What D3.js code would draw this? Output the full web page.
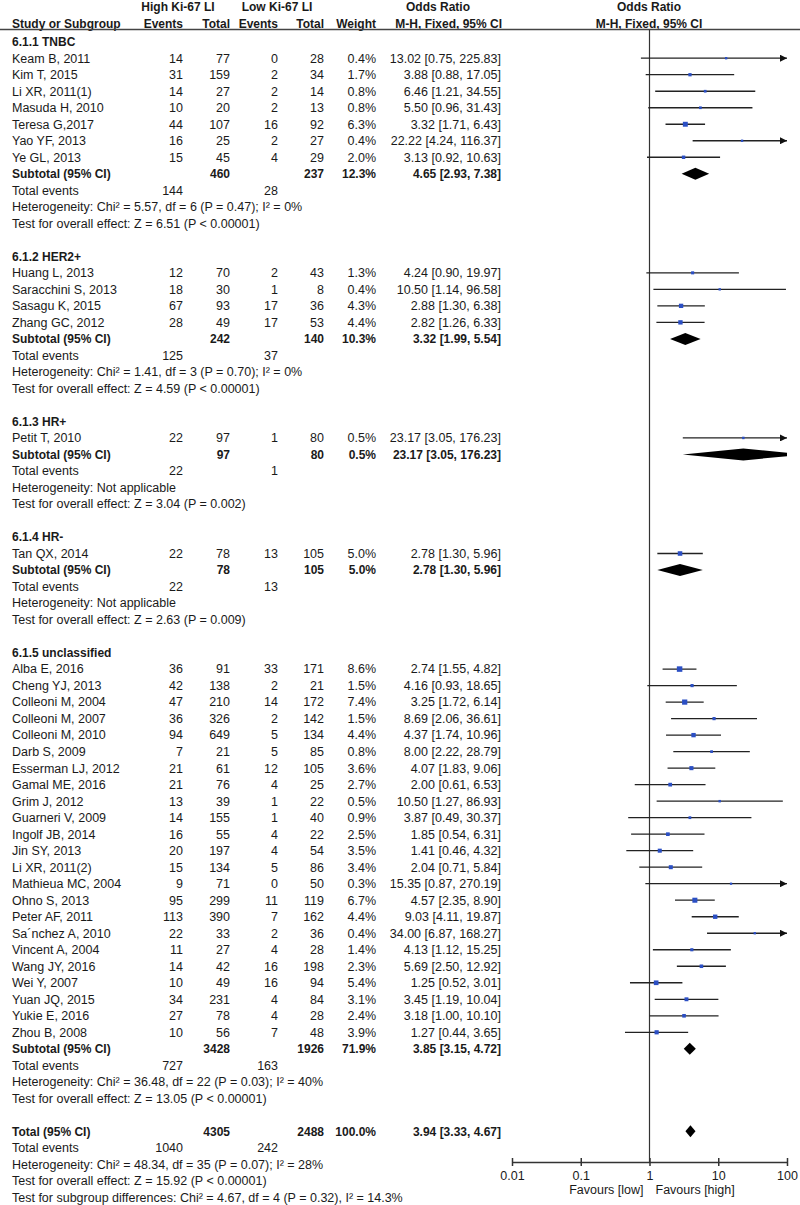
<!DOCTYPE html>
<html>
<head>
<meta charset="utf-8">
<script src="https://cdn.jsdelivr.net/npm/d3@7"></script>
<style>
  body { margin: 0; background: #fff; }
  svg { font-family: "Liberation Sans", Arial, sans-serif; font-size: 12.5px; fill: #1a1a1a; }
  .b { font-weight: bold; font-size: 12px; }
</style>
</head>
<body>
<div id="chart"></div>
<script>
// Studies (parallel arrays, one entry per study)
const studyNames = ["Keam B, 2011", "Kim T, 2015", "Li XR, 2011(1)", "Masuda H, 2010", "Teresa G,2017", "Yao YF, 2013", "Ye GL, 2013",
  "Huang L, 2013", "Saracchini S, 2013", "Sasagu K, 2015", "Zhang GC, 2012",
  "Petit T, 2010",
  "Tan QX, 2014",
  "Alba E, 2016", "Cheng YJ, 2013", "Colleoni M, 2004", "Colleoni M, 2007", "Colleoni M, 2010", "Darb S, 2009", "Esserman LJ, 2012",
  "Gamal ME, 2016", "Grim J, 2012", "Guarneri V, 2009", "Ingolf JB, 2014", "Jin SY, 2013", "Li XR, 2011(2)", "Mathieua MC, 2004",
  "Ohno S, 2013", "Peter AF, 2011", "Sa\u00B4nchez A, 2010", "Vincent A, 2004", "Wang JY, 2016", "Wei Y, 2007", "Yuan JQ, 2015",
  "Yukie E, 2016", "Zhou B, 2008"];
const studyGroup = [0,0,0,0,0,0,0, 1,1,1,1, 2, 3, 4,4,4,4,4,4,4,4,4,4,4,4,4,4,4,4,4,4,4,4,4,4,4];
const highEvents = [14,31,14,10,44,16,15, 12,18,67,28, 22, 22, 36,42,47,36,94,7,21,21,13,14,16,20,15,9,95,113,22,11,14,10,34,27,10];
const highTotals = [77,159,27,20,107,25,45, 70,30,93,49, 97, 78, 91,138,210,326,649,21,61,76,39,155,55,197,134,71,299,390,33,27,42,49,231,78,56];
const lowEvents  = [0,2,2,2,16,2,4, 2,1,17,17, 1, 13, 33,2,14,2,5,5,12,4,1,1,4,4,5,0,11,7,2,4,16,16,4,4,7];
const lowTotals  = [28,34,14,13,92,27,29, 43,8,36,53, 80, 105, 171,21,172,142,134,85,105,25,22,40,22,54,86,50,119,162,36,28,198,94,84,28,48];
const weights    = [0.4,1.7,0.8,0.8,6.3,0.4,2.0, 1.3,0.4,4.3,4.4, 0.5, 5.0, 8.6,1.5,7.4,1.5,4.4,0.8,3.6,2.7,0.5,0.9,2.5,3.5,3.4,0.3,6.7,4.4,0.4,1.4,2.3,5.4,3.1,2.4,3.9];
const oddsRatios = [13.02,3.88,6.46,5.50,3.32,22.22,3.13, 4.24,10.50,2.88,2.82, 23.17, 2.78,
  2.74,4.16,3.25,8.69,4.37,8.00,4.07,2.00,10.50,3.87,1.85,1.41,2.04,15.35,4.57,9.03,34.00,4.13,5.69,1.25,3.45,3.18,1.27];
const ciLower = [0.75,0.88,1.21,0.96,1.71,4.24,0.92, 0.90,1.14,1.30,1.26, 3.05, 1.30,
  1.55,0.93,1.72,2.06,1.74,2.22,1.83,0.61,1.27,0.49,0.54,0.46,0.71,0.87,2.35,4.11,6.87,1.12,2.50,0.52,1.19,1.00,0.44];
const ciUpper = [225.83,17.05,34.55,31.43,6.43,116.37,10.63, 19.97,96.58,6.38,6.33, 176.23, 5.96,
  4.82,18.65,6.14,36.61,10.96,28.79,9.06,6.53,86.93,30.37,6.31,4.32,5.84,270.19,8.90,19.87,168.27,15.25,12.92,3.01,10.04,10.10,3.65];

// Subgroups
const groupLabels = ["6.1.1 TNBC", "6.1.2 HER2+", "6.1.3 HR+", "6.1.4 HR-", "6.1.5 unclassified"];
const groupHighTotal = [460, 242, 97, 78, 3428];
const groupLowTotal = [237, 140, 80, 105, 1926];
const groupWeight = ["12.3%", "10.3%", "0.5%", "5.0%", "71.9%"];
const groupOR = [4.65, 3.32, 23.17, 2.78, 3.85];
const groupLo = [2.93, 1.99, 3.05, 1.30, 3.15];
const groupHi = [7.38, 5.54, 176.23, 5.96, 4.72];
const groupHighEvents = [144, 125, 22, 22, 727];
const groupLowEvents = [28, 37, 1, 13, 163];
const groupHet = ["Heterogeneity: Chi\u00B2 = 5.57, df = 6 (P = 0.47); I\u00B2 = 0%", "Heterogeneity: Chi\u00B2 = 1.41, df = 3 (P = 0.70); I\u00B2 = 0%",
  "Heterogeneity: Not applicable", "Heterogeneity: Not applicable", "Heterogeneity: Chi\u00B2 = 36.48, df = 22 (P = 0.03); I\u00B2 = 40%"];
const groupTest = ["Test for overall effect: Z = 6.51 (P < 0.00001)", "Test for overall effect: Z = 4.59 (P < 0.00001)",
  "Test for overall effect: Z = 3.04 (P = 0.002)", "Test for overall effect: Z = 2.63 (P = 0.009)", "Test for overall effect: Z = 13.05 (P < 0.00001)"];

// Overall
const totalHighTotal = 4305, totalLowTotal = 2488, totalWeight = "100.0%";
const totalOR = 3.94, totalLo = 3.33, totalHi = 4.67;
const totalHighEvents = 1040, totalLowEvents = 242;
const totalNotes = ["Heterogeneity: Chi\u00B2 = 48.34, df = 35 (P = 0.07); I\u00B2 = 28%",
  "Test for overall effect: Z = 15.92 (P < 0.00001)",
  "Test for subgroup differences: Chi\u00B2 = 4.67, df = 4 (P = 0.32), I\u00B2 = 14.3%"];
const axisTicks = [0.01, 0.1, 1, 10, 100];

const width = 800, height = 1205;
const fmt = d3.format(".2f");
const orText = (o, l, h) => `${fmt(o)} [${fmt(l)}, ${fmt(h)}]`;

// Build the row list
let rows = [];
groupLabels.forEach((g, gi) => {
  rows.push({type: "group", label: g});
  studyNames.forEach((s, i) => { if (studyGroup[i] === gi) rows.push({type: "study", i: i}); });
  rows.push({type: "subtotal", gi: gi});
  rows.push({type: "events", h: groupHighEvents[gi], l: groupLowEvents[gi]});
  rows.push({type: "note", label: groupHet[gi]});
  rows.push({type: "note", label: groupTest[gi]});
  rows.push({type: "blank"});
});
rows.push({type: "total"});
rows.push({type: "events", h: totalHighEvents, l: totalLowEvents});
totalNotes.forEach(t => rows.push({type: "note", label: t}));

const svg = d3.select("#chart").append("svg")
  .attr("width", width).attr("height", height);

const y = d3.scaleLinear().domain([0, rows.length - 1]).range([41.7, 41.7 + (rows.length - 1) * 16.51]);
const x = d3.scaleLog().domain([0.01, 100]).range([512, 787]);
const boxSize = d3.scaleSqrt().domain([0, 8.6]).range([1.5, 5.5]);

// column right edges
const col = {hiEv: 183, hiTot: 230, loEv: 278, loTot: 324, wt: 376, or: 501, name: 12};
const axisY = 1162;

function txt(xp, yp, s, anchor, bold) {
  svg.append("text").attr("x", xp).attr("y", yp).attr("dy", "0.35em")
    .attr("text-anchor", anchor || "start").attr("class", bold ? "b" : null).text(s);
}

// Header
txt(178, 7, "High Ki-67 LI", "middle", true);
txt(277, 7, "Low Ki-67 LI", "middle", true);
txt(438, 7, "Odds Ratio", "middle", true);
txt(649, 7, "Odds Ratio", "middle", true);
txt(col.name, 24, "Study or Subgroup", "start", true);
txt(col.hiEv, 24, "Events", "end", true);
txt(col.hiTot, 24, "Total", "end", true);
txt(col.loEv, 24, "Events", "end", true);
txt(col.loTot, 24, "Total", "end", true);
txt(col.wt, 24, "Weight", "end", true);
txt(col.or + 1, 24, "M-H, Fixed, 95% CI", "end", true);
txt(649, 24, "M-H, Fixed, 95% CI", "middle", true);
svg.append("line").attr("x1", 0).attr("x2", width).attr("y1", 29.5).attr("y2", 29.5)
  .attr("stroke", "#444").attr("stroke-width", 1.3);

// Vertical line of no effect
svg.append("line").attr("x1", x(1)).attr("x2", x(1)).attr("y1", 29.5).attr("y2", axisY)
  .attr("stroke", "#333").attr("stroke-width", 1.2);

svg.append("defs").append("marker").attr("id", "arr")
  .attr("viewBox", "0 0 10 10").attr("refX", 10).attr("refY", 5)
  .attr("markerWidth", 7).attr("markerHeight", 7).attr("markerUnits", "userSpaceOnUse")
  .attr("orient", "auto")
  .append("path").attr("d", "M0,0L10,5L0,10Z").attr("fill", "#111");

svg.select("defs").append("clipPath").attr("id", "plotclip")
  .append("rect").attr("x", x(0.01)).attr("y", 0).attr("width", x(100) - x(0.01)).attr("height", height);

function diamond(yy, o, l, h) {
  const hh = 6;
  svg.append("path")
    .attr("clip-path", "url(#plotclip)")
    .attr("d", `M${x(l)},${yy}L${x(o)},${yy - hh}L${x(h)},${yy}L${x(o)},${yy + hh}Z`)
    .attr("fill", "#000");
}

rows.forEach((r, k) => {
  const yy = y(k);
  if (r.type === "group") {
    txt(col.name, yy, r.label, "start", true);
  } else if (r.type === "study") {
    const i = r.i;
    txt(col.name, yy, studyNames[i]);
    txt(col.hiEv, yy, highEvents[i], "end");
    txt(col.hiTot, yy, highTotals[i], "end");
    txt(col.loEv, yy, lowEvents[i], "end");
    txt(col.loTot, yy, lowTotals[i], "end");
    txt(col.wt, yy, weights[i].toFixed(1) + "%", "end");
    txt(col.or, yy, orText(oddsRatios[i], ciLower[i], ciUpper[i]), "end");
    const over = ciUpper[i] > 100;
    svg.append("line")
      .attr("x1", x(Math.max(ciLower[i], 0.01))).attr("x2", x(Math.min(ciUpper[i], 100)))
      .attr("y1", yy).attr("y2", yy)
      .attr("stroke", "#222").attr("stroke-width", 1.3)
      .attr("marker-end", over ? "url(#arr)" : null);
    const s = boxSize(weights[i]);
    svg.append("rect")
      .attr("x", x(oddsRatios[i]) - s / 2).attr("y", yy - s / 2)
      .attr("width", s).attr("height", s)
      .attr("fill", "#2b4fc4");
  } else if (r.type === "subtotal") {
    const gi = r.gi;
    txt(col.name, yy, "Subtotal (95% CI)", "start", true);
    txt(col.hiTot, yy, groupHighTotal[gi], "end", true);
    txt(col.loTot, yy, groupLowTotal[gi], "end", true);
    txt(col.wt, yy, groupWeight[gi], "end", true);
    txt(col.or, yy, orText(groupOR[gi], groupLo[gi], groupHi[gi]), "end", true);
    diamond(yy, groupOR[gi], groupLo[gi], groupHi[gi]);
  } else if (r.type === "events") {
    txt(col.name, yy, "Total events");
    txt(col.hiEv, yy, r.h, "end");
    txt(col.loEv, yy, r.l, "end");
  } else if (r.type === "note") {
    txt(col.name, yy, r.label);
  } else if (r.type === "total") {
    txt(col.name, yy, "Total (95% CI)", "start", true);
    txt(col.hiTot, yy, totalHighTotal, "end", true);
    txt(col.loTot, yy, totalLowTotal, "end", true);
    txt(col.wt, yy, totalWeight, "end", true);
    txt(col.or, yy, orText(totalOR, totalLo, totalHi), "end", true);
    diamond(yy, totalOR, totalLo, totalHi);
  }
});

// Axis
const axis = svg.append("g")
  .attr("transform", `translate(0, ${axisY})`)
  .call(d3.axisBottom(x).tickValues(axisTicks).tickFormat(d => String(d))
    .tickSizeInner(4).tickSizeOuter(0).tickPadding(5));
axis.select(".domain").attr("stroke", "#333").attr("stroke-width", 1.5);
axis.selectAll(".tick line").attr("y1", -4).attr("stroke", "#333").attr("stroke-width", 1.5);
axis.selectAll(".tick text").attr("font-size", 12.5).attr("font-family", "Liberation Sans, Arial, sans-serif").attr("fill", "#1a1a1a");

txt(x(1) - 6, 1190, "Favours [low]", "end");
txt(x(1) + 6, 1190, "Favours [high]", "start");
</script>
</body>
</html>
